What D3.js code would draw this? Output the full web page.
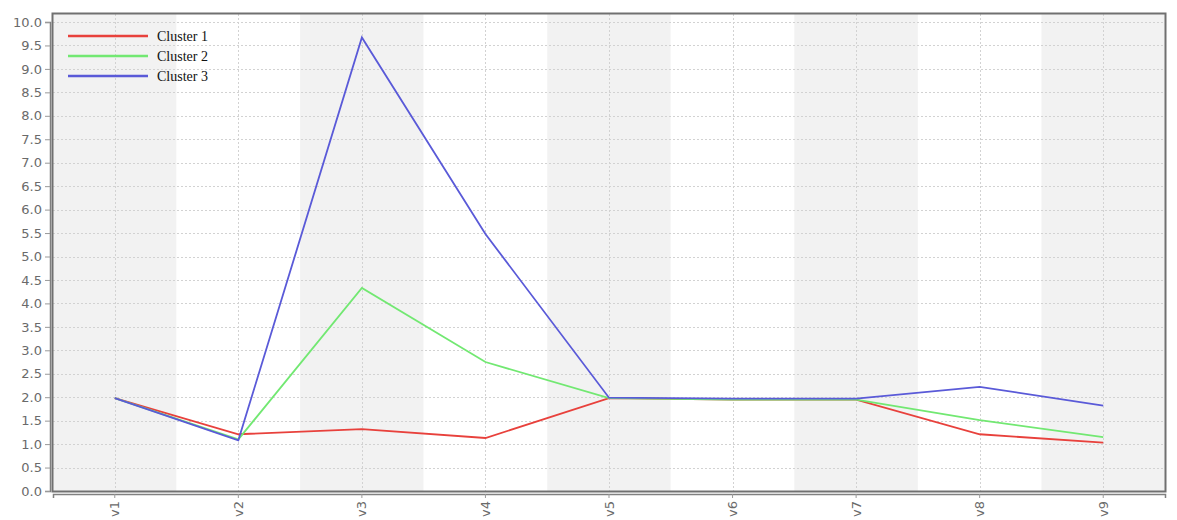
<!DOCTYPE html>
<html><head><meta charset="utf-8">
<script src="https://cdn.jsdelivr.net/npm/d3@7"></script>
<style>body{margin:0;background:#fff}svg{display:block}</style>
</head><body>
<svg id="c" width="1177" height="520"></svg>
<script>
const categories = ["v1","v2","v3","v4","v5","v6","v7","v8","v9"];
const seriesNames = ["Cluster 1","Cluster 2","Cluster 3"];
const cluster1 = [1.98,1.21,1.32,1.13,1.98,1.95,1.95,1.21,1.03];
const cluster2 = [1.98,1.10,4.33,2.75,1.98,1.95,1.95,1.51,1.15];
const cluster3 = [1.98,1.08,9.67,5.48,1.99,1.97,1.97,2.22,1.82];
const yTicks = [0,0.5,1,1.5,2,2.5,3,3.5,4,4.5,5,5.5,6,6.5,7,7.5,8,8.5,9,9.5,10];
const colors = ["#e8413c","#72e872","#5a5ad8"];

const svg = d3.select("#c");
const L=53, R=1165, T=14, B=491;
const x = d3.scaleBand().domain(categories).range([L,R]).padding(0);
const y = d3.scaleLinear().domain([0,10]).range([B,22]);

// background bands
svg.append("g").selectAll("rect").data(categories).join("rect")
  .attr("x",d=>x(d)).attr("y",T).attr("width",x.bandwidth()).attr("height",B-T)
  .attr("fill",(d,i)=>i%2===0?"#f2f2f2":"#ffffff");

// grid
const grid = svg.append("g").attr("stroke","#d2d2d2").attr("stroke-width",1).attr("stroke-dasharray","2,2");
grid.selectAll("line.h").data(yTicks).join("line").attr("class","h")
  .attr("x1",L).attr("x2",R).attr("y1",d=>Math.round(y(d))+0.5).attr("y2",d=>Math.round(y(d))+0.5);
grid.selectAll("line.v").data(categories).join("line").attr("class","v")
  .attr("x1",d=>Math.round(x(d)+x.bandwidth()/2)+0.5).attr("x2",d=>Math.round(x(d)+x.bandwidth()/2)+0.5)
  .attr("y1",T).attr("y2",B);

// frame
svg.append("rect").attr("x",L-0.5).attr("y",T-0.5).attr("width",R-L+1).attr("height",B-T+1)
  .attr("fill","none").attr("stroke","#707070").attr("stroke-width",2);

// axes
const yAxis = svg.append("g").attr("transform",`translate(${L-3},0)`)
  .call(d3.axisLeft(y).tickValues(yTicks).tickFormat(d3.format(".1f")).tickSizeOuter(0).tickSize(5));
yAxis.select(".domain").attr("stroke","#808080").attr("stroke-width",1.5);
yAxis.selectAll(".tick line").attr("stroke","#999");
yAxis.selectAll("text").attr("fill","#6a6a6a").style("font-family","DejaVu Sans, sans-serif").style("font-size","13px");

const xAxis = svg.append("g").attr("transform",`translate(0,${B+3})`)
  .call(d3.axisBottom(x).tickSizeOuter(0).tickSize(4));
xAxis.select(".domain").attr("stroke","#808080").attr("stroke-width",1.5);
xAxis.selectAll(".tick line").attr("stroke","#999");
xAxis.selectAll("text").attr("fill","#6a6a6a").style("font-family","DejaVu Sans, sans-serif").style("font-size","13px")
  .attr("transform","rotate(-90)").attr("text-anchor","end").attr("x",-7).attr("y",0).attr("dy","0.35em");

// lines
const data = [cluster1,cluster2,cluster3];
const line = d3.line().x((d,i)=>x(categories[i])+x.bandwidth()/2).y(d=>y(d));
svg.append("g").selectAll("path").data(data).join("path")
  .attr("d",line).attr("fill","none").attr("stroke",(d,i)=>colors[i]).attr("stroke-width",1.8);

// legend
const lg = svg.append("g");
seriesNames.forEach((n,i)=>{
  const yy = 36 + i*20;
  lg.append("line").attr("x1",68).attr("x2",148).attr("y1",yy).attr("y2",yy)
    .attr("stroke",colors[i]).attr("stroke-width",2.5);
  lg.append("text").attr("x",157).attr("y",yy).attr("dy","0.35em").text(n)
    .style("font-family","Liberation Serif, serif").style("font-size","14px").attr("fill","#111");
});
</script>
</body></html>
